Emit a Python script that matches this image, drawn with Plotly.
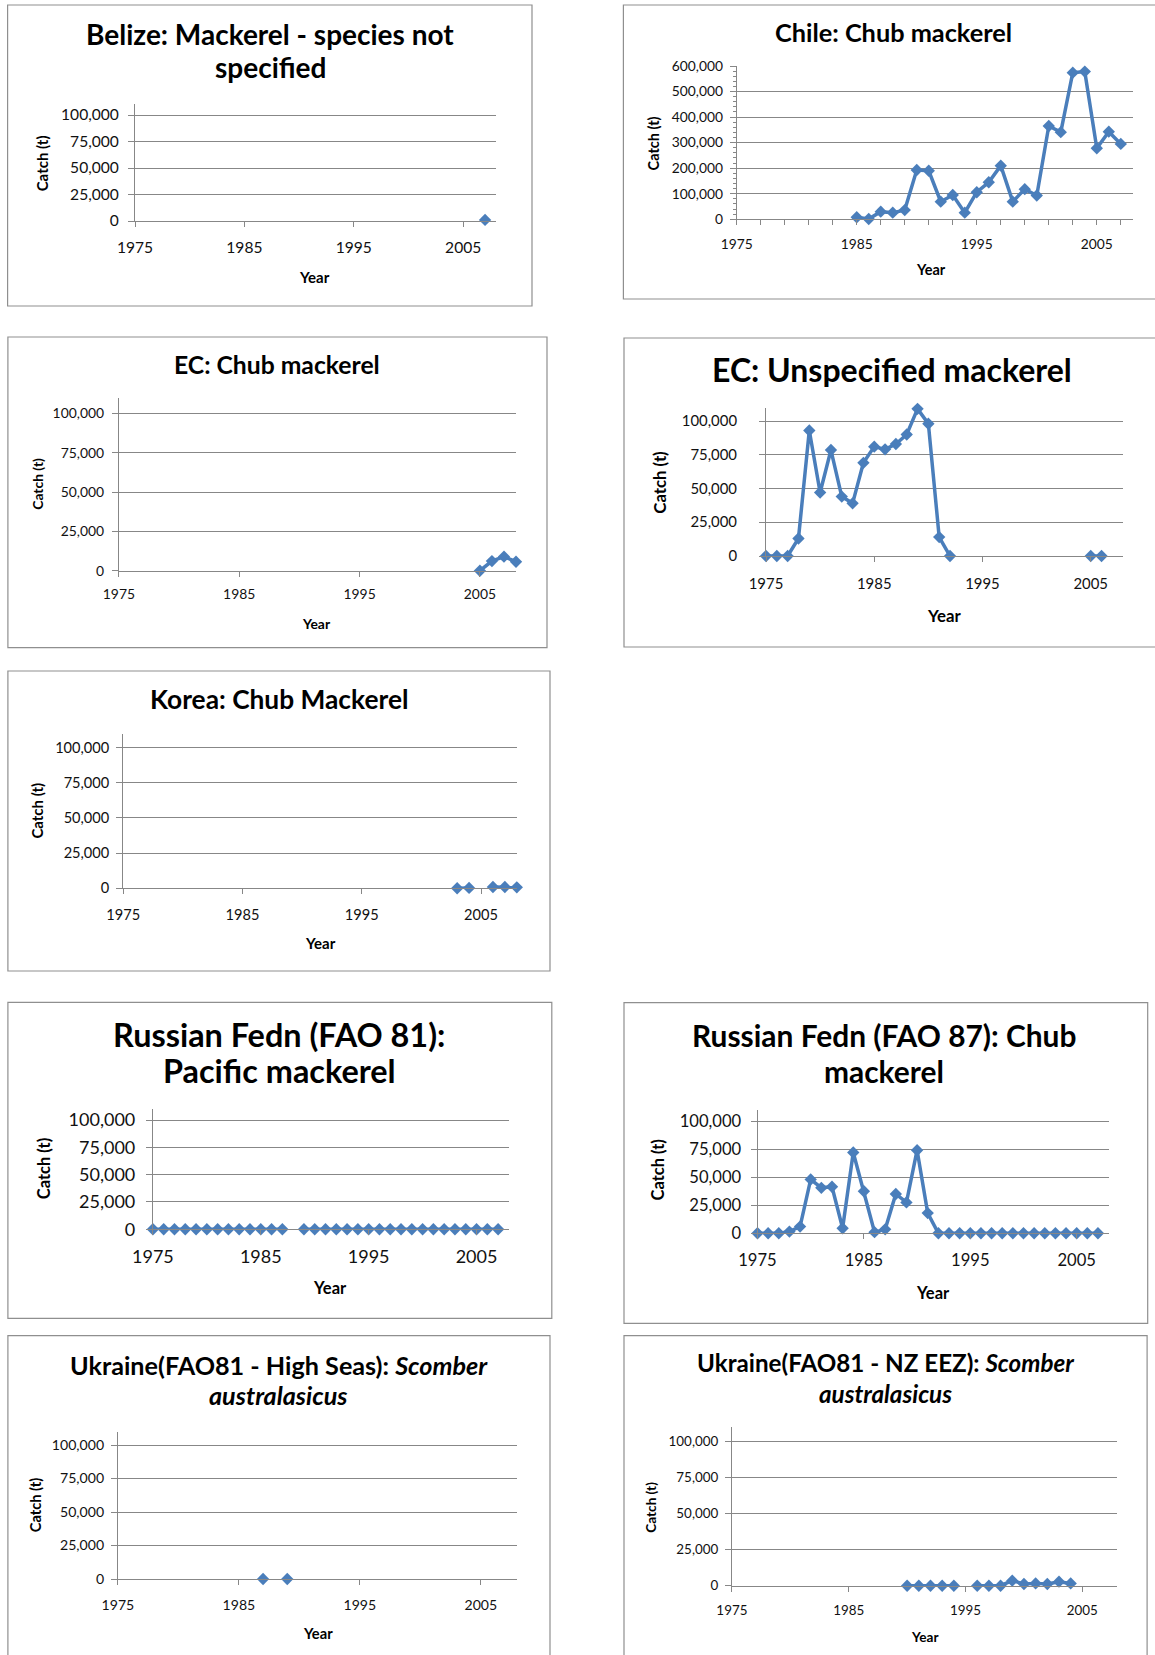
import plotly.graph_objects as go

# ---------------- data (catch in tonnes) ----------------
belize_years = [2007]
belize_catch = [1000]

chile_years = [1985, 1986, 1987, 1988, 1989, 1990, 1991, 1992, 1993, 1994, 1995, 1996,
               1997, 1998, 1999, 2000, 2001, 2002, 2003, 2004, 2005, 2006, 2007]
chile_catch = [8000, 1000, 30000, 26000, 36000, 193000, 190000, 69000, 95000, 26000, 106000, 145000,
               210000, 69000, 118000, 93000, 365000, 341000, 574000, 578000, 278000, 343000, 295000]

ec_chub_years = [2005, 2006, 2007, 2008]
ec_chub_catch = [0, 6100, 8900, 5700]

ec_unspec_years = [1975, 1976, 1977, 1978, 1979, 1980, 1981, 1982, 1983, 1984, 1985, 1986,
                   1987, 1988, 1989, 1990, 1991, 1992, 1993, 1994, 1995, 1996, 1997, 1998,
                   1999, 2000, 2001, 2002, 2003, 2004, 2005, 2006]
ec_unspec_catch = [0, 0, 0, 13000, 93000, 47000, 78500, 44000, 39000, 69000, 81000, 79000,
                   83000, 90000, 109000, 98000, 14000, 0, None, None, None, None, None, None,
                   None, None, None, None, None, None, 0, 0]

korea_years = [2003, 2004, 2005, 2006, 2007, 2008]
korea_catch = [0, 300, None, 900, 900, 700]

rus81_years = [1975, 1976, 1977, 1978, 1979, 1980, 1981, 1982, 1983, 1984, 1985, 1986,
               1987, 1988, 1989, 1990, 1991, 1992, 1993, 1994, 1995, 1996, 1997, 1998,
               1999, 2000, 2001, 2002, 2003, 2004, 2005, 2006, 2007]
rus81_catch = [0, 0, 0, 0, 0, 0, 0, 0, 0, 0, 0, 0,
               0, None, 0, 0, 0, 0, 0, 0, 0, 0, 0, 0,
               0, 0, 0, 0, 0, 0, 0, 0, 0]

rus87_years = [1975, 1976, 1977, 1978, 1979, 1980, 1981, 1982, 1983, 1984, 1985, 1986,
               1987, 1988, 1989, 1990, 1991, 1992, 1993, 1994, 1995, 1996, 1997, 1998,
               1999, 2000, 2001, 2002, 2003, 2004, 2005, 2006, 2007]
rus87_catch = [0, 0, 0, 1500, 6000, 48000, 40500, 41500, 4500, 72000, 37500, 1000,
               3500, 35000, 27500, 74000, 18000, 0, 0, 0, 0, 0, 0, 0,
               0, 0, 0, 0, 0, 0, 0, 0, 0]

ukr_hs_years = [1987, 1988, 1989]
ukr_hs_catch = [0, None, 0]

ukr_nz_years = [1990, 1991, 1992, 1993, 1994, 1995, 1996, 1997, 1998, 1999, 2000, 2001,
                2002, 2003, 2004]
ukr_nz_catch = [0, 0, 0, 0, 0, None, 0, 0, 0, 3500, 1200, 1600,
                1200, 2800, 1600]

x_tick_labels = [1975, 1985, 1995, 2005]

# ---------------- style / layout ----------------
W, H = 1155, 1655
BLUE = '#4A7EBB'
GRID = '#878787'
BOX = '#8F8F8F'
TXT = '#111111'
FONT = 'Lato, "Open Sans", sans-serif'

panels = [
    dict(years=belize_years, catch=belize_catch,
         title=['Belize: Mackerel - species not', 'specified'],
         box=(7.6, 5, 532, 306), plot=(135, 496, 104.4, 221), ymax=110000, ydtick=25000,
         tx=270.3, ty=[34.3, 66.7], tfs=28, kfs=15.6, afs=15,
         year_xy=(314, 277), catch_xy=(42, 163.3), xs=7, ys=6, minor=False),
    dict(years=chile_years, catch=chile_catch,
         title=['Chile: Chub mackerel'],
         box=(623.4, 5, 1160, 299), plot=(736.7, 1132.8, 66, 219.3), ymax=600000, ydtick=100000,
         tx=893.8, ty=[32], tfs=25.3, kfs=13.8, afs=14.5,
         year_xy=(930.8, 270), catch_xy=(653.1, 143.3), xs=7, ys=4, minor=True),
    dict(years=ec_chub_years, catch=ec_chub_catch,
         title=['EC: Chub mackerel'],
         box=(7.9, 337, 547, 647.7), plot=(118.9, 516, 397.6, 570.7), ymax=110000, ydtick=25000,
         tx=276.8, ty=[364.7], tfs=24.7, kfs=13.9, afs=13.9,
         year_xy=(316.6, 623.3), catch_xy=(36.8, 484), xs=6, ys=5, minor=False),
    dict(years=ec_unspec_years, catch=ec_unspec_catch,
         title=['EC: Unspecified mackerel'],
         box=(624, 338, 1160, 647), plot=(766, 1123.2, 407.5, 556), ymax=110000, ydtick=25000,
         tx=892.1, ty=[369.5], tfs=32, kfs=14.9, afs=16.8,
         year_xy=(944.1, 616), catch_xy=(659.2, 482.5), xs=9, ys=19, minor=False),
    dict(years=korea_years, catch=korea_catch,
         title=['Korea: Chub Mackerel'],
         box=(7.9, 671, 550, 971), plot=(123.2, 516.8, 733.6, 888.3), ymax=110000, ydtick=25000,
         tx=278.6, ty=[699.3], tfs=26.3, kfs=14.6, afs=15,
         year_xy=(320.2, 943.3), catch_xy=(36.8, 810.8), xs=8, ys=4, minor=False),
    dict(years=rus81_years, catch=rus81_catch,
         title=['Russian Fedn (FAO 81):', 'Pacific mackerel'],
         box=(7.9, 1002.3, 551.8, 1318.3), plot=(152.9, 508.9, 1109.1, 1229.3), ymax=110000, ydtick=25000,
         tx=279.1, ty=[1034.2, 1070.5], tfs=32.4, kfs=18, afs=16.5,
         year_xy=(330.4, 1288.3), catch_xy=(43.9, 1168.3), xs=6, ys=7, minor=False),
    dict(years=rus87_years, catch=rus87_catch,
         title=['Russian Fedn (FAO 87): Chub', 'mackerel'],
         box=(624, 1002.7, 1147.7, 1323.3), plot=(757.5, 1108.6, 1109.8, 1233.3), ymax=110000, ydtick=25000,
         tx=884.1, ty=[1035, 1070.8], tfs=29.9, kfs=16.6, afs=16.5,
         year_xy=(932.7, 1292.7), catch_xy=(657.5, 1170), xs=7, ys=6, minor=False),
    dict(years=ukr_hs_years, catch=ukr_hs_catch,
         title=['Ukraine(FAO81 - High Seas): <i>Scomber</i>', '<i>australasicus</i>'],
         box=(7.9, 1335.7, 550, 1680), plot=(117.9, 517.1, 1431.6, 1579), ymax=110000, ydtick=25000,
         tx=278.9, ty=[1364.7, 1395.3], tfs=25.2, kfs=14.1, afs=14.7,
         year_xy=(317.5, 1632.7), catch_xy=(35, 1505.3), xs=8, ys=4, minor=False),
    dict(years=ukr_nz_years, catch=ukr_nz_catch,
         title=['Ukraine(FAO81 - NZ EEZ): <i>Scomber</i>', '<i>australasicus</i>'],
         box=(624, 1335.7, 1147.1, 1680), plot=(731.9, 1117.4, 1427.3, 1585.7), ymax=110000, ydtick=25000,
         tx=885.4, ty=[1362.8, 1393.3], tfs=24.2, kfs=13.4, afs=13.6,
         year_xy=(925.4, 1636.7), catch_xy=(650.7, 1507), xs=7, ys=4, minor=False),
]


def px(x):
    return x / W


def py(y):
    return 1 - y / H


fig = go.Figure()
shapes = []
annotations = []
layout_axes = {}

for i, p in enumerate(panels, start=1):
    xa = 'x' if i == 1 else f'x{i}'
    ya = 'y' if i == 1 else f'y{i}'
    fig.add_trace(go.Scatter(
        x=p['years'], y=p['catch'], xaxis=xa, yaxis=ya, mode='lines+markers',
        line=dict(color=BLUE, width=3.5),
        marker=dict(symbol='diamond', size=9.5, color=BLUE),
        connectgaps=False, cliponaxis=False, showlegend=False, hoverinfo='skip'))

    l, r, t, b = p['plot']
    tickfont = dict(family=FONT, size=p['kfs'], color=TXT)
    xaxis = dict(domain=[px(l), px(r)], range=[1975, 2008], anchor=ya, automargin=False,
                 tickmode='array', tickvals=x_tick_labels, ticktext=[str(v) for v in x_tick_labels],
                 ticks='outside', ticklen=5, tickcolor=GRID, tickwidth=1,
                 showline=True, linecolor=GRID, linewidth=1, showgrid=False, zeroline=False,
                 tickfont=tickfont, ticklabelstandoff=p['xs'], fixedrange=True)
    if p['minor']:
        xaxis['minor'] = dict(tick0=1975, dtick=2, ticks='outside', ticklen=5,
                              tickcolor=GRID, showgrid=False)
    yaxis = dict(domain=[py(b), py(t)], range=[0, p['ymax']], anchor=xa, automargin=False,
                 tick0=0, dtick=p['ydtick'], ticks='outside', ticklen=6, tickcolor=GRID, tickwidth=1,
                 showline=True, linecolor=GRID, linewidth=1,
                 showgrid=True, gridcolor=GRID, gridwidth=1, zeroline=False,
                 tickformat=',', tickfont=tickfont, ticklabelstandoff=p['ys'], fixedrange=True)
    if p['minor']:
        yaxis['minor'] = dict(dtick=p['ydtick'] / 5, ticks='outside', ticklen=3,
                              tickcolor=GRID, showgrid=False)
    layout_axes['xaxis' if i == 1 else f'xaxis{i}'] = xaxis
    layout_axes['yaxis' if i == 1 else f'yaxis{i}'] = yaxis

    bx0, by0, bx1, by1 = p['box']
    shapes.append(dict(type='rect', xref='paper', yref='paper',
                       x0=px(bx0), x1=px(bx1), y0=py(by1), y1=py(by0),
                       line=dict(color=BOX, width=1.2), fillcolor='rgba(0,0,0,0)', layer='below'))

    for line_text, ty in zip(p['title'], p['ty']):
        annotations.append(dict(text=f'<b>{line_text}</b>', x=px(p['tx']), y=py(ty),
                                xref='paper', yref='paper', xanchor='center', yanchor='middle',
                                showarrow=False, font=dict(family=FONT, size=p['tfs'], color='#000000')))
    annotations.append(dict(text='<b>Year</b>', x=px(p['year_xy'][0]), y=py(p['year_xy'][1]),
                            xref='paper', yref='paper', xanchor='center', yanchor='middle',
                            showarrow=False, font=dict(family=FONT, size=p['afs'], color='#000000')))
    annotations.append(dict(text='<b>Catch (t)</b>', x=px(p['catch_xy'][0]), y=py(p['catch_xy'][1]),
                            xref='paper', yref='paper', xanchor='center', yanchor='middle',
                            textangle=-90, showarrow=False,
                            font=dict(family=FONT, size=p['afs'], color='#000000')))

fig.update_layout(
    template='none',
    width=W, height=H, margin=dict(l=0, r=0, t=0, b=0, pad=0, autoexpand=False),
    paper_bgcolor='white', plot_bgcolor='white',
    shapes=shapes, annotations=annotations, showlegend=False,
    **layout_axes)

fig.write_html('out.html', config={'displayModeBar': False},
               post_script="document.body.style.margin='0';document.body.style.overflow='hidden';")
